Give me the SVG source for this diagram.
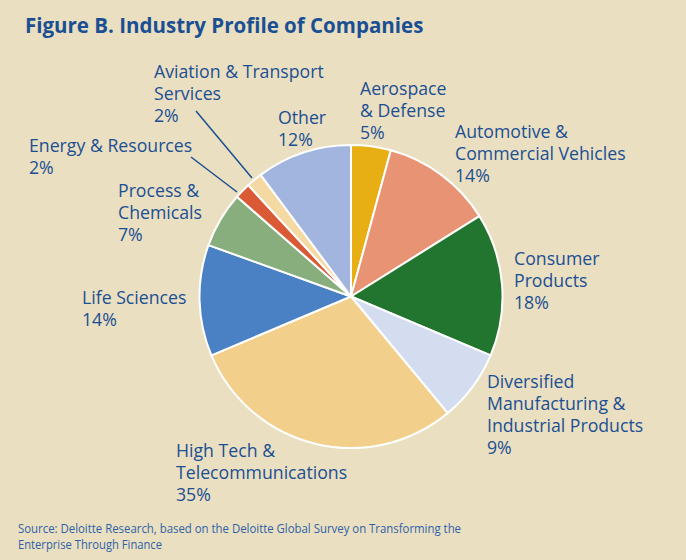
<svg xmlns="http://www.w3.org/2000/svg" width="686" height="560" viewBox="0 0 686 560">
<style>
.lbl{font-family:"Open Sans","Noto Sans","Liberation Sans",sans-serif;font-size:17.7px;fill:#1B4F93}
.ttl{font-family:"Open Sans","Noto Sans","Liberation Sans",sans-serif;font-size:20.5px;font-weight:bold;fill:#1B4F93}
.src{font-family:"Open Sans","Noto Sans","Liberation Sans",sans-serif;font-size:12.3px;fill:#2E62A8}
.sl{stroke:#FFFFFF;stroke-width:2;stroke-linejoin:round}
.lead{stroke:#1B4F93;stroke-width:1.5;fill:none}
</style>
<rect x="0" y="0" width="686" height="560" fill="#EADFC1"/>
<text class="ttl" x="25" y="33">Figure B. Industry Profile of Companies</text>
<g id="pie">
<g id="aerospace"><path class="sl" fill="#E8AF14" d="M351,296.5 L351,145 A151.5,151.5 0 0 1 390.86,150.33 Z"/></g>
<g id="automotive"><path class="sl" fill="#E89474" d="M351,296.5 L390.86,150.33 A151.5,151.5 0 0 1 479.43,216.13 Z"/></g>
<g id="consumer"><path class="sl" fill="#22752E" d="M351,296.5 L479.43,216.13 A151.5,151.5 0 0 1 490.58,355.42 Z"/></g>
<g id="diversified"><path class="sl" fill="#D4DDF0" d="M351,296.5 L490.58,355.42 A151.5,151.5 0 0 1 447.69,413.14 Z"/></g>
<g id="hightech"><path class="sl" fill="#F2D08B" d="M351,296.5 L447.69,413.14 A151.5,151.5 0 0 1 211.42,355.42 Z"/></g>
<g id="lifesciences"><path class="sl" fill="#4A80C4" d="M351,296.5 L211.42,355.42 A151.5,151.5 0 0 1 208.48,245.10 Z"/></g>
<g id="process"><path class="sl" fill="#87AE7C" d="M351,296.5 L208.48,245.10 A151.5,151.5 0 0 1 236.98,196.74 Z"/></g>
<g id="energy"><path class="sl" fill="#D95A34" d="M351,296.5 L236.98,196.74 A151.5,151.5 0 0 1 248.24,185.18 Z"/></g>
<g id="aviation"><path class="sl" fill="#F5D9A3" d="M351,296.5 L248.24,185.18 A151.5,151.5 0 0 1 260.66,174.89 Z"/></g>
<g id="other"><path class="sl" fill="#A1B5DE" d="M351,296.5 L260.66,174.89 A151.5,151.5 0 0 1 351,145 Z"/></g>
</g>
<g id="connectors">
<line class="lead" x1="196" y1="111" x2="252" y2="178"/>
<line class="lead" x1="191" y1="157" x2="237" y2="192"/>
</g>
<g id="labels">
<g id="lbl-aviation"><text class="lbl" x="154" y="77.5">Aviation &amp; Transport</text><text class="lbl" x="154" y="99.5">Services</text><text class="lbl" x="154" y="121.5">2%</text></g>
<g id="lbl-energy"><text class="lbl" x="29" y="151.5">Energy &amp; Resources</text><text class="lbl" x="29" y="173.5">2%</text></g>
<g id="lbl-process"><text class="lbl" x="118" y="196.8">Process &amp;</text><text class="lbl" x="118" y="218.8">Chemicals</text><text class="lbl" x="118" y="240.8">7%</text></g>
<g id="lbl-other"><text class="lbl" x="278" y="123.5">Other</text><text class="lbl" x="278" y="145.5">12%</text></g>
<g id="lbl-aerospace"><text class="lbl" x="360" y="94.7">Aerospace</text><text class="lbl" x="360" y="116.7">&amp; Defense</text><text class="lbl" x="360" y="138.7">5%</text></g>
<g id="lbl-automotive"><text class="lbl" x="455" y="138">Automotive &amp;</text><text class="lbl" x="455" y="160">Commercial Vehicles</text><text class="lbl" x="455" y="182">14%</text></g>
<g id="lbl-consumer"><text class="lbl" x="514" y="264.7">Consumer</text><text class="lbl" x="514" y="286.7">Products</text><text class="lbl" x="514" y="308.7">18%</text></g>
<g id="lbl-diversified"><text class="lbl" x="487" y="388">Diversified</text><text class="lbl" x="487" y="410">Manufacturing &amp;</text><text class="lbl" x="487" y="432">Industrial Products</text><text class="lbl" x="487" y="454">9%</text></g>
<g id="lbl-life"><text class="lbl" x="82" y="304.3">Life Sciences</text><text class="lbl" x="82" y="326.3">14%</text></g>
<g id="lbl-hightech"><text class="lbl" x="176" y="457">High Tech &amp;</text><text class="lbl" x="176" y="479">Telecommunications</text><text class="lbl" x="176" y="501">35%</text></g>
</g>
<g id="source">
<text class="src" x="18" y="533" textLength="443" lengthAdjust="spacingAndGlyphs">Source: Deloitte Research, based on the Deloitte Global Survey on Transforming the</text>
<text class="src" x="18" y="548.5" textLength="144" lengthAdjust="spacingAndGlyphs">Enterprise Through Finance</text>
</g>
</svg>
